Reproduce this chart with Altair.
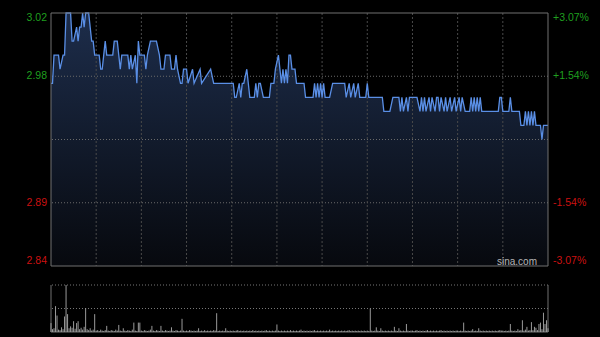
import altair as alt
import pandas as pd

# ---- price line breakpoints (minute index from 09:30, HK session: 330 minutes) ----
minutes = [0, 1, 2, 5, 6, 8, 9, 10, 13, 14, 15, 17, 18, 19, 20, 21, 22, 23, 25, 26, 27, 28, 29,
           32, 33, 34, 35, 36, 37, 41, 42, 44, 45, 46, 47, 51, 52, 53, 54, 56, 57, 58, 59,
           62, 63, 64, 66, 70, 72, 73, 75, 76, 79, 80, 82, 83, 84, 86, 87, 88, 90, 91, 94, 95,
           99, 100, 106, 108, 121, 122, 123, 125, 126, 127, 128, 130, 131, 132, 135, 136, 137,
           138, 139, 141, 145, 146, 148, 149, 151, 153, 154, 155, 156, 157, 158, 159, 160, 162,
           163, 168, 169, 174, 175, 176, 177, 178, 179, 180, 181, 182, 185, 187, 195, 196, 198,
           199, 201, 202, 204, 205, 209, 210, 211, 220, 221, 225, 227, 231, 232, 233, 234, 236,
           237, 238, 243, 245, 246, 247, 248, 249, 251, 252, 253, 255, 256, 257, 258, 259, 261,
           262, 263, 265, 266, 268, 269, 271, 272, 273, 275, 278, 279, 280, 281, 282, 283, 284,
           285, 286, 297, 298, 299, 300, 304, 305, 306, 311, 312, 314, 315, 316, 317, 318, 319,
           320, 321, 322, 325, 326, 327, 330]
prices = [2.97, 2.97, 2.99, 2.99, 2.98, 2.99, 2.99, 3.02, 3.02, 3.00, 3.00, 3.01, 3.00, 3.01, 3.01,
          3.02, 3.01, 3.02, 3.02, 3.01, 3.00, 3.00, 2.99,
          2.99, 2.98, 2.98, 2.99, 3.00, 2.99, 2.99, 3.00, 3.00, 2.99, 2.98, 2.99, 2.99, 2.98, 2.99,
          2.98, 2.99, 2.97, 3.00, 2.99,
          2.99, 2.98, 2.99, 3.00, 3.00, 2.99, 2.98, 2.98, 2.99, 2.99, 2.98, 2.98, 2.99, 2.98, 2.97,
          2.97, 2.98, 2.98, 2.97, 2.98, 2.97,
          2.98, 2.97, 2.98, 2.97, 2.97, 2.96, 2.96, 2.97, 2.96, 2.97, 2.97, 2.98, 2.97, 2.96, 2.96,
          2.97, 2.96,
          2.97, 2.97, 2.96, 2.96, 2.97, 2.97, 2.98, 2.99, 2.97, 2.98, 2.97, 2.98, 2.97, 2.99, 2.99,
          2.98, 2.98,
          2.97, 2.97, 2.96, 2.96, 2.97, 2.96, 2.97, 2.96, 2.97, 2.96, 2.97, 2.96, 2.96, 2.97, 2.97,
          2.96, 2.97,
          2.96, 2.97, 2.96, 2.97, 2.96, 2.96, 2.97, 2.96, 2.96, 2.95, 2.95, 2.96, 2.96, 2.95, 2.96,
          2.95, 2.96,
          2.95, 2.96, 2.96, 2.95, 2.96, 2.95, 2.96, 2.95, 2.96, 2.95, 2.96, 2.95, 2.96, 2.96, 2.95,
          2.96, 2.95,
          2.96, 2.95, 2.96, 2.95, 2.96, 2.95, 2.96, 2.95, 2.96, 2.95, 2.95, 2.96, 2.95, 2.96, 2.95,
          2.96, 2.95,
          2.96, 2.95, 2.95, 2.96, 2.96, 2.95, 2.95, 2.96, 2.95, 2.95, 2.94, 2.94, 2.95, 2.94, 2.95,
          2.94, 2.95,
          2.94, 2.95, 2.94, 2.94, 2.93, 2.94, 2.94]

# ---- per-minute volume (relative, max = 100) ----
volumes = [
    19, 6, 8, 55, 35, 5, 4, 10, 6, 33, 100, 38, 8, 12, 9, 23, 7, 19, 23, 6, 9, 5, 11, 51, 6, 4, 8, 3, 5, 38,
    3, 4, 2, 5, 3, 2, 4, 13, 3, 2, 4, 3, 2, 5, 3, 15, 3, 2, 8, 3, 2, 4, 3, 2, 5, 20, 3, 2, 20, 20,
    3, 2, 4, 3, 2, 3, 5, 13, 3, 2, 4, 3, 2, 13, 3, 2, 4, 3, 2, 3, 10, 3, 2, 4, 3, 2, 3, 28, 3, 2,
    3, 2, 4, 3, 2, 3, 2, 3, 8, 2, 3, 2, 4, 2, 3, 2, 3, 2, 4, 3, 40, 2, 3, 2, 3, 2, 8, 3, 2, 3,
    2, 3, 2, 3, 4, 2, 3, 2, 3, 2, 3, 2, 3, 2, 4, 2, 3, 2, 3, 2, 3, 2, 3, 4, 2, 3, 2, 3, 2, 3,
    16, 3, 2, 3, 2, 3, 2, 3, 2, 4, 2, 3, 2, 3, 2, 3, 5, 2, 3, 2, 3, 2, 3, 2, 3, 4, 2, 3, 2, 3,
    2, 3, 2, 3, 2, 5, 2, 3, 2, 3, 2, 3, 2, 3, 2, 3, 2, 3, 4, 2, 3, 2, 3, 2, 3, 2, 3, 2, 3, 2,
    3, 2, 50, 3, 2, 3, 10, 3, 2, 8, 3, 2, 3, 2, 3, 2, 3, 2, 11, 3, 2, 8, 3, 2, 3, 2, 17, 3, 2, 3,
    3, 2, 3, 4, 2, 3, 2, 3, 2, 3, 4, 2, 3, 2, 3, 2, 3, 2, 3, 4, 2, 3, 2, 3, 2, 3, 2, 3, 2, 3,
    3, 2, 3, 2, 20, 3, 2, 3, 2, 3, 6, 2, 3, 2, 8, 3, 2, 3, 2, 3, 2, 3, 2, 3, 2, 3, 2, 3, 4, 3,
    3, 2, 3, 2, 3, 17, 3, 2, 3, 2, 6, 3, 4, 25, 3, 5, 11, 3, 4, 21, 4, 11, 9, 4, 17, 20, 6, 41, 17, 25,
    8,
]
volume_minutes = list(range(len(volumes)))

# ---- axis labels ----
price_ticks = [3.02, 2.975, 2.885, 2.84]
left_labels = ["3.02", "2.98", "2.89", "2.84"]
right_labels = ["+3.07%", "+1.54%", "-1.54%", "-3.07%"]
label_sides = ["up", "up", "down", "down"]
label_pos = ["top", "middle", "middle", "bottom"]
grid_prices = [2.975, 2.93, 2.885]
grid_minutes = [30, 60, 90, 120, 150, 180, 210, 240, 270, 300]
price_min, price_max = 2.84, 3.02
session_end = 330

price_df = pd.DataFrame({"minute": minutes, "price": prices})
vol_df = pd.DataFrame({"minute": volume_minutes, "vol": volumes})
label_df = pd.DataFrame({"price": price_ticks, "left": left_labels, "right": right_labels,
                         "side": label_sides, "pos": label_pos})

PW, PH = 497, 319
price_scale = alt.Scale(domain=[price_min, price_max], range=[253, 0], nice=False, zero=False)
vol_scale = alt.Scale(domain=[0, 100], range=[319, 272], nice=False, zero=False)
x_scale = alt.Scale(domain=[0, session_end], nice=False, zero=False)
color_scale = alt.Scale(domain=["up", "down"], range=["#1f9f1f", "#cc1111"])

X = alt.X("minute:Q", scale=x_scale, axis=None)
Yp = alt.Y("price:Q", scale=price_scale, axis=None)
one = pd.DataFrame({"a": [0]})

area = alt.Chart(price_df).mark_area(
    color=alt.Gradient(gradient="linear",
                       stops=[alt.GradientStop(color="#1d2d4b", offset=0),
                              alt.GradientStop(color="#07090e", offset=1)],
                       x1=1, x2=1, y1=0, y2=1)
).encode(x=X, y=Yp, y2=alt.Y2(datum=price_min))

hgrid = alt.Chart(pd.DataFrame({"price": grid_prices})).mark_rule(
    color="#6a6a6a", strokeDash=[1, 2], strokeWidth=1
).encode(y=Yp)

vgrid = alt.Chart(pd.DataFrame({"minute": grid_minutes})).mark_rule(
    color="#4a4a4a", strokeDash=[2, 2], strokeWidth=1
).encode(x=X, y=alt.Y(datum=price_max, scale=price_scale, axis=None), y2=alt.Y2(datum=price_min))

line = alt.Chart(price_df).mark_line(color="#5a8fe6", strokeWidth=1.3).encode(x=X, y=Yp)

frame = alt.Chart(one).mark_rect(fill="transparent", stroke="#707070", strokeWidth=1).encode(
    x=alt.X(datum=0, scale=x_scale, axis=None), x2=alt.X2(datum=session_end),
    y=alt.Y(datum=price_max, scale=price_scale, axis=None), y2=alt.Y2(datum=price_min))

Yv = alt.Y("vol:Q", scale=vol_scale, axis=None)
vol_grid = alt.Chart(pd.DataFrame({"vol": [100, 50]})).mark_rule(
    color="#777777", strokeDash=[1, 2], strokeWidth=1).encode(y=Yv)
vol_base = alt.Chart(pd.DataFrame({"vol": [0]})).mark_rule(color="#707070", strokeWidth=1).encode(y=Yv)
vol_sides = alt.Chart(pd.DataFrame({"minute": [0, session_end]})).mark_rule(
    color="#707070", strokeWidth=1).encode(
    x=X, y=alt.Y(datum=100, scale=vol_scale, axis=None), y2=alt.Y2(datum=0))
vol_bars = alt.Chart(vol_df).mark_rule(color="#9a9a9a", strokeWidth=1).encode(
    x=X, y=Yv, y2=alt.Y2(datum=0))

font = "Liberation Sans"
text_layers = []
for pos, base in [("top", "top"), ("middle", "middle"), ("bottom", "bottom")]:
    sub = label_df[label_df["pos"] == pos]
    for field, xv, al in [("left", -4, "right"), ("right", 502, "left")]:
        text_layers.append(
            alt.Chart(sub).mark_text(align=al, baseline=base, font=font, fontSize=10.5).encode(
                x=alt.value(xv), y=Yp, text=f"{field}:N",
                color=alt.Color("side:N", scale=color_scale, legend=None))
        )

sina = alt.Chart(pd.DataFrame({"t": ["sina.com"]})).mark_text(
    align="right", baseline="alphabetic", font=font, fontSize=10, color="#b5b5b5"
).encode(x=alt.value(486), y=alt.value(252), text="t:N")

chart = alt.layer(
    area, hgrid, vgrid, line, frame, vol_grid, vol_base, vol_sides, vol_bars, sina, *text_layers
).resolve_scale(y="independent").properties(
    width=PW, height=PH,
    autosize=alt.AutoSizeParams(type="none"),
    padding={"left": 51, "top": 13, "right": 52, "bottom": 5},
    background="#000000",
).configure_view(strokeWidth=0)

chart.save("out.html", embed_options={"renderer": "svg", "actions": False})
